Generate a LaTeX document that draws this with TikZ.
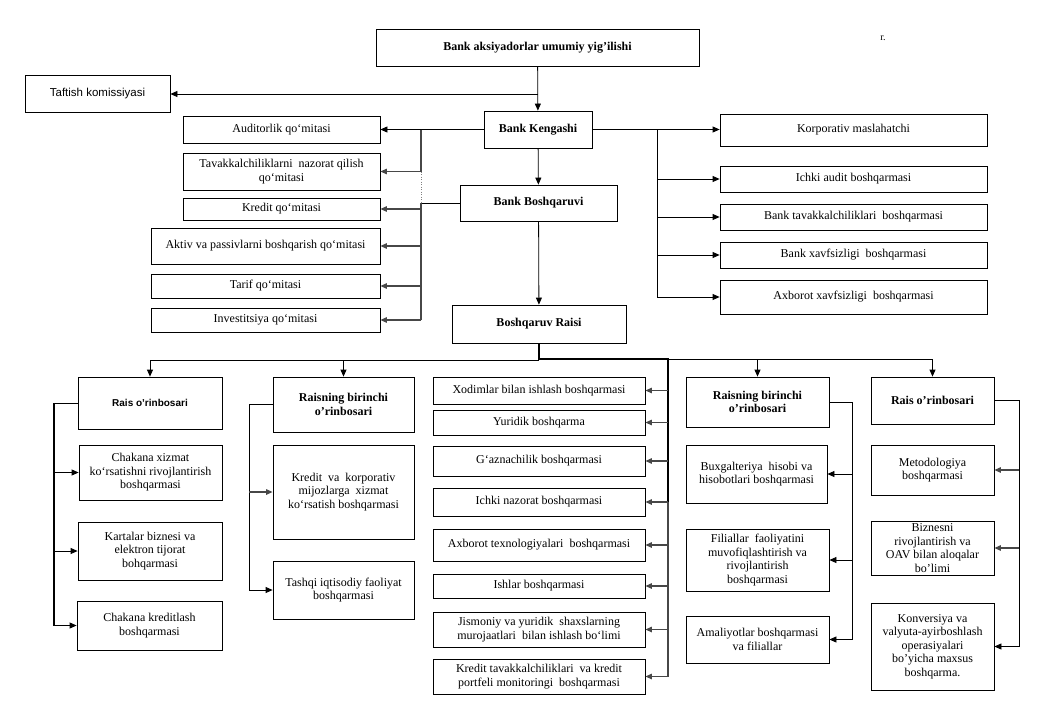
\documentclass[tikz,border=0pt]{standalone}
\usepackage{fontspec}
\setmainfont{Liberation Serif}
\newfontfamily\sansf{Liberation Sans}
\usetikzlibrary{arrows.meta}
\tikzset{
 box/.style={draw,line width=0.8pt,inner sep=1pt,align=center,font=\fontsize{12}{13.5}\selectfont},
 bbox/.style={box,font=\fontsize{12}{13.5}\selectfont\bfseries},
 sbox/.style={box,font=\sansf\fontsize{11.5}{13}\selectfont},
 sbbox/.style={box,font=\sansf\fontsize{10}{12}\selectfont\bfseries},
 ln/.style={line width=0.8pt},
 gln/.style={line width=1.2pt,draw=black!72},
 thk/.style={line width=1.8pt},
 arr/.style={ln,-{Triangle[length=7pt,width=6pt]}},
 garr/.style={gln,-{Triangle[length=6.5pt,width=5.5pt]}},
 dotln/.style={draw=black!50,line width=0.5pt,dotted}
}
\newcommand\mybox[7][box]{\node[#1,minimum width={#5pt-#3pt},minimum height={#6pt-#4pt}] (#2) at ({(#3+#5)/2},{(#4+#6)/2}) {#7};}
\begin{document}
\begin{tikzpicture}[x=1pt,y=-1pt]
\useasboundingbox (0,0) rectangle (1040,720);
% top part
\mybox[bbox]{gm}{376}{29}{699}{66}{Bank aksiyadorlar umumiy yig’ilishi}
\mybox[sbox]{taf}{25}{75}{170}{112}{Taftish komissiyasi}
\mybox[bbox]{keng}{484}{111}{592}{148}{Bank Kengashi}
\mybox{aud}{183}{116}{380}{143}{Auditorlik qo‘mitasi}
\mybox{tav}{183}{153}{380}{190}{Tavakkalchiliklarni\ \ nazorat qilish\\qo‘mitasi}
\mybox{kre}{183}{198}{380}{220}{Kredit qo‘mitasi}
\mybox{akt}{151}{228}{380}{264}{Aktiv va passivlarni boshqarish qo‘mitasi}
\mybox{tar}{151}{274}{380}{298}{Tarif qo‘mitasi}
\mybox{inv}{151}{308}{380}{332}{Investitsiya qo‘mitasi}
\mybox[bbox]{bb}{460}{185}{617}{221}{Bank Boshqaruvi}
\mybox[bbox]{br}{452}{305}{626}{343}{Boshqaruv Raisi}
\mybox{kor}{720}{114}{987}{146}{Korporativ maslahatchi}
\mybox{ia}{720}{166}{987}{192}{Ichki audit boshqarmasi}
\mybox{btv}{720}{204}{987}{230}{Bank tavakkalchiliklari\ \ boshqarmasi}
\mybox{bxv}{720}{242}{987}{268}{Bank xavfsizligi\ \ boshqarmasi}
\mybox{axv}{720}{280}{987}{314}{Axborot xavfsizligi\ \ boshqarmasi}
\node[font=\fontsize{10}{11}\selectfont] (rr) at (883,38) {r.};
% bottom left
\mybox[sbbox]{ro1}{78}{377}{222}{429}{Rais o’rinbosari}
\mybox[bbox]{rb1}{273}{377}{414}{432}{Raisning birinchi\\o’rinbosari}
\mybox{cx}{79}{445}{222}{500}{Chakana xizmat\\ko‘rsatishni rivojlantirish\\boshqarmasi}
\mybox{kb}{78}{522}{222}{580}{Kartalar biznesi va\\elektron tijorat\\bohqarmasi}
\mybox{ck}{77}{601}{222}{650}{Chakana kreditlash\\boshqarmasi}
\mybox{kk}{273}{445}{414}{539}{Kredit\ \ va\ \ korporativ\\mijozlarga\ \ xizmat\\ko‘rsatish boshqarmasi}
\mybox{tq}{273}{561}{414}{619}{Tashqi iqtisodiy faoliyat\\boshqarmasi}
% middle
\mybox{xo}{433}{377}{645}{404}{Xodimlar bilan ishlash boshqarmasi}
\mybox{yu}{433}{410}{645}{435}{Yuridik boshqarma}
\mybox{gz}{433}{446}{645}{476}{G‘aznachilik boshqarmasi}
\mybox{in}{433}{488}{645}{516}{Ichki nazorat boshqarmasi}
\mybox{at}{433}{529}{645}{561}{Axborot texnologiyalari\ \ boshqarmasi}
\mybox{is}{433}{574}{645}{598}{Ishlar boshqarmasi}
\mybox{js}{433}{612}{645}{647}{Jismoniy va yuridik\ \ shaxslarning\\murojaatlari\ \ bilan ishlash bo‘limi}
\mybox{kt}{433}{659}{645}{694}{Kredit tavakkalchiliklari\ \ va kredit\\portfeli monitoringi\ \ boshqarmasi}
% bottom right
\mybox[bbox]{rb2}{686}{377}{829}{427}{Raisning birinchi\\o’rinbosari}
\mybox{bx}{686}{445}{827}{503}{Buxgalteriya\ \ hisobi va\\hisobotlari boshqarmasi}
\mybox{fi}{686}{529}{829}{591}{Filiallar\ \ faoliyatini\\muvofiqlashtirish va\\rivojlantirish\\boshqarmasi}
\mybox{am}{686}{616}{829}{663}{Amaliyotlar boshqarmasi\\va filiallar}
\mybox[bbox]{ro2}{871}{377}{994}{424}{Rais o’rinbosari}
\mybox{me}{871}{445}{994}{495}{Metodologiya\\boshqarmasi}
\mybox{bz}{871}{521}{994}{575}{Biznesni\\rivojlantirish va\\OAV bilan aloqalar\\bo’limi}
\mybox{ko}{871}{603}{994}{690}{Konversiya va\\valyuta-ayirboshlash\\operasiyalari\\bo’yicha maxsus\\boshqarma.}
% ---- connectors top
\coordinate (j1) at (538,94);
\draw[arr] (gm) -- (keng);
\draw[arr] (j1) -- (j1 -| taf.east);
\draw[arr] (keng.west) -- (keng.west -| aud.east);
\coordinate (v1) at (421,129.5);
\draw[gln] (v1) -- (v1 |- tav.east);
\draw[garr] (v1 |- tav.east) -- (tav.east);
\draw[dotln] (v1 |- tav.east) -- (v1 |- bb.west);
\draw[ln] (bb.west) -- (v1 |- bb.west);
\draw[gln] (v1 |- bb.west) -- (v1 |- inv.east);
\foreach \n in {kre,akt,tar,inv} {\draw[garr] (v1 |- \n.east) -- (\n.east);}
\coordinate (v2) at (657,129.5);
\draw[arr] (keng.east) -- (keng.east -| kor.west);
\draw[ln] (v2) -- (v2 |- axv.west);
\foreach \n in {ia,btv,bxv,axv} {\draw[arr] (v2 |- \n.west) -- (\n.west);}
\draw[arr] (keng) -- (bb);
\draw[arr] (bb) -- (br);
% ---- connectors bottom
\coordinate (h) at (539,360.5);
\coordinate (m) at (668,359);
\draw[ln] (br.south |- h) -- (h -| ro1);
\draw[arr] (h -| ro1) -- (ro1);
\draw[arr] (h -| rb1) -- (rb1);
\draw[ln] (m) -- (m -| ro2);
\draw[arr] (m -| rb2) -- (rb2);
\draw[arr] (m -| ro2) -- (ro2);
\draw[thk] (br.south) -- (br.south |- m) -- (m) -- (m |- in.east);
\draw[gln] (m |- in.east) -- (m |- kt.east);
\foreach \n in {xo,yu,gz,in,at,is,js,kt} {\draw[garr] (m |- \n.east) -- (\n.east);}
\coordinate (l1) at (54,403);
\draw[ln] (ro1.west) -- (l1);
\draw[thk] (l1) -- (l1 |- ck.west);
\foreach \n in {cx,kb,ck} {\draw[arr] (l1 |- \n.west) -- (\n.west);}
\coordinate (l2) at (249,404.5);
\draw[ln] (rb1.west) -- (l2) -- (l2 |- tq.west);
\draw[garr] (l2 |- kk.west) -- (kk.west);
\draw[arr] (l2 |- tq.west) -- (tq.west);
\coordinate (r1) at (852,402);
\draw[ln] (rb2.east) -- (r1) -- (r1 |- am.east);
\foreach \n in {bx,fi,am} {\draw[arr] (r1 |- \n.east) -- (\n.east);}
\coordinate (r2) at (1019,400.5);
\draw[ln] (ro2.east) -- (r2) -- (r2 |- ko.east);
\draw[garr] (r2 |- me.east) -- (me.east);
\draw[garr] (r2 |- bz.east) -- (bz.east);
\draw[arr] (r2 |- ko.east) -- (ko.east);
\end{tikzpicture}
\end{document}
